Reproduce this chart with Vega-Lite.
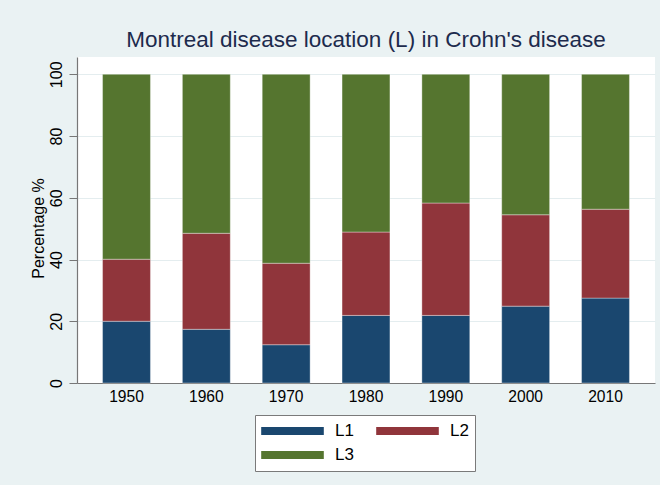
{
  "$schema": "https://vega.github.io/schema/vega-lite/v6.json",
  "width": 578,
  "height": 326,
  "autosize": {"type": "none"},
  "padding": {"left": 77, "top": 57, "right": 5, "bottom": 102},
  "background": "#eaf2f3",
  "title": {
    "text": "Montreal disease location (L) in Crohn's disease",
    "font": "Liberation Sans",
    "fontSize": 22.5,
    "fontWeight": "normal",
    "color": "#1d2b4d",
    "anchor": "middle",
    "frame": "group",
    "offset": 6
  },
  "data": {
    "values": [
      {"decade": "1950", "loc": "L1", "pct": 20.0},
      {"decade": "1950", "loc": "L2", "pct": 20.1},
      {"decade": "1950", "loc": "L3", "pct": 59.9},
      {"decade": "1960", "loc": "L1", "pct": 17.4},
      {"decade": "1960", "loc": "L2", "pct": 31.1},
      {"decade": "1960", "loc": "L3", "pct": 51.5},
      {"decade": "1970", "loc": "L1", "pct": 12.4},
      {"decade": "1970", "loc": "L2", "pct": 26.4},
      {"decade": "1970", "loc": "L3", "pct": 61.2},
      {"decade": "1980", "loc": "L1", "pct": 21.9},
      {"decade": "1980", "loc": "L2", "pct": 27.0},
      {"decade": "1980", "loc": "L3", "pct": 51.1},
      {"decade": "1990", "loc": "L1", "pct": 21.9},
      {"decade": "1990", "loc": "L2", "pct": 36.4},
      {"decade": "1990", "loc": "L3", "pct": 41.7},
      {"decade": "2000", "loc": "L1", "pct": 24.9},
      {"decade": "2000", "loc": "L2", "pct": 29.6},
      {"decade": "2000", "loc": "L3", "pct": 45.5},
      {"decade": "2010", "loc": "L1", "pct": 27.5},
      {"decade": "2010", "loc": "L2", "pct": 28.8},
      {"decade": "2010", "loc": "L3", "pct": 43.7}
    ]
  },
  "mark": {"type": "bar", "stroke": "#ffffff", "strokeOpacity": 0.45, "strokeWidth": 0.8},
  "encoding": {
    "x": {
      "field": "decade",
      "type": "nominal",
      "scale": {"paddingInner": 0.4, "paddingOuter": 0.32},
      "axis": {
        "title": null,
        "labelAngle": 0,
        "labelFont": "Liberation Sans",
        "labelFontSize": 15.6,
        "labelColor": "#000000",
        "labelPadding": 6,
        "ticks": false,
        "domainColor": "#777777",
        "domainWidth": 1.2
      }
    },
    "y": {
      "field": "pct",
      "type": "quantitative",
      "stack": "zero",
      "scale": {"domain": [0, 105.6], "nice": false, "zero": true},
      "axis": {
        "title": "Percentage %",
        "titleFont": "Liberation Sans",
        "titleFontSize": 16,
        "titleFontWeight": "normal",
        "titleColor": "#000000",
        "titlePadding": 2,
        "titleY": 171,
        "values": [0, 20, 40, 60, 80, 100],
        "labelAngle": -90,
        "labelAlign": "center",
        "labelBaseline": "bottom",
        "labelFont": "Liberation Sans",
        "labelFontSize": 16,
        "labelColor": "#000000",
        "labelPadding": 5,
        "tickSize": 8,
        "tickColor": "#777777",
        "domainColor": "#777777",
        "domainWidth": 1.2,
        "grid": true,
        "gridColor": "#e4edef",
        "gridWidth": 1.2
      }
    },
    "color": {
      "field": "loc",
      "type": "nominal",
      "scale": {"domain": ["L1", "L2", "L3"], "range": ["#1a476f", "#90353b", "#55752f"]},
      "legend": {
        "title": null,
        "orient": "none",
        "legendX": 178,
        "legendY": 358,
        "direction": "horizontal",
        "columns": 2,
        "symbolType": "M-1,-0.128H1V0.128H-1Z",
        "symbolSize": 3919,
        "symbolStrokeWidth": 0,
        "symbolOpacity": 1,
        "clipHeight": 20,
        "labelFont": "Liberation Sans",
        "labelFontSize": 17,
        "labelColor": "#000000",
        "labelOffset": 11,
        "columnPadding": 22,
        "rowPadding": 4,
        "padding": 6,
        "fillColor": "#ffffff",
        "strokeColor": "#7a7a7a",
        "encode": {"legend": {"update": {"strokeWidth": {"value": 1.3}}}}
      }
    },
    "order": {"field": "loc", "type": "nominal", "sort": "ascending"}
  },
  "config": {
    "view": {"fill": "#ffffff", "stroke": null}
  }
}
